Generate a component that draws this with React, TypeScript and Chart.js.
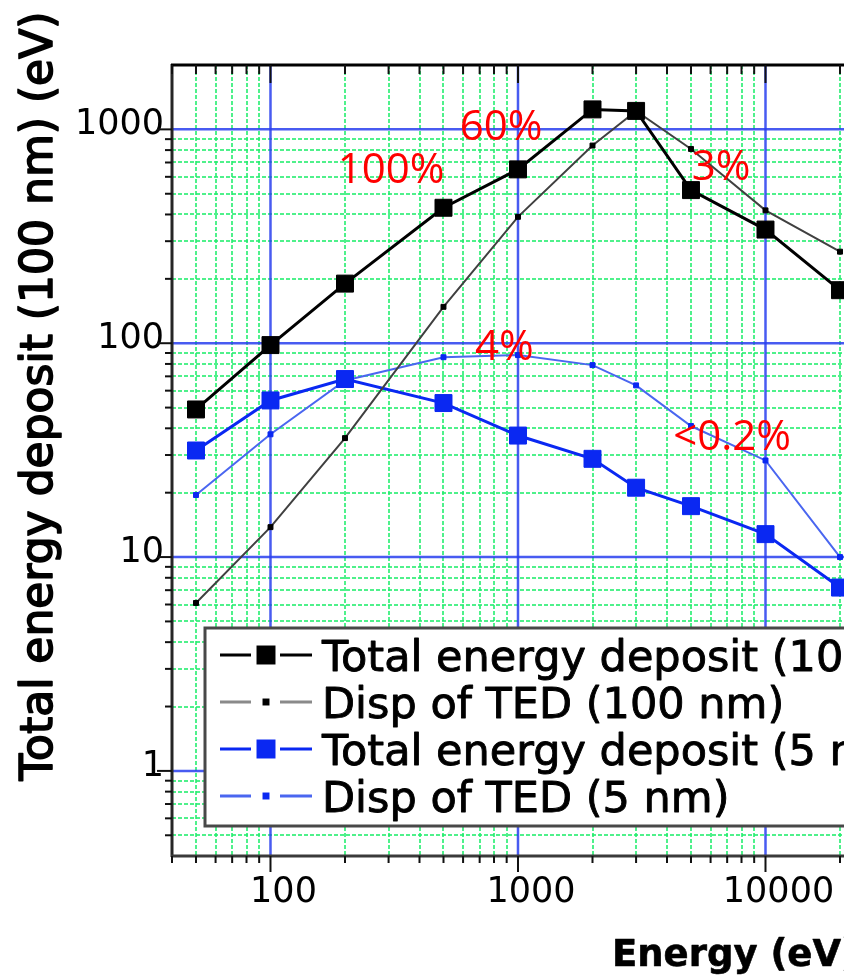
import React, { useEffect, useRef } from 'react';
import { Chart, registerables } from 'chart.js';

Chart.register(...registerables);

// Beam energies (eV)
const energies = [50, 100, 200, 500, 1000, 2000, 3000, 5000, 10000, 20000];

// Total energy deposit, 100 nm layer (eV)
const ted100 = [49, 98, 190, 430, 650, 1240, 1220, 520, 340, 177];
// Dispersion of the total energy deposit, 100 nm layer
const disp100 = [6.1, 13.8, 36, 148, 390, 840, 1220, 810, 418, 268];
// Total energy deposit, 5 nm layer (eV)
const ted5 = [31.5, 54, 68, 52.5, 37, 28.8, 21.1, 17.3, 12.8, 7.2];
// Dispersion of the total energy deposit, 5 nm layer
const disp5 = [19.5, 37.5, 67, 86, 88, 79, 63.5, 41, 28.3, 10];

const seriesLabels = [
  'Total energy deposit (100 nm)',
  'Disp of TED (100 nm)',
  'Total energy deposit (5 nm)',
  'Disp of TED (5 nm)',
];

const xMajorTicks = [100, 1000, 10000];
const yMajorTicks = [1, 10, 100, 1000];
const xLimits = [40, 100000];
const yLimits = [0.4, 2000];

const xTitle = 'Energy (eV)';
const yTitle = 'Total energy deposit (100 nm) (eV)';

// Percentage notes, anchored in data space (energy, deposit)
const noteTexts = ['100%', '60%', '3%', '4%', '<0.2%'];
const noteEnergies = [307, 855, 6620, 881, 7330];
const noteDeposits = [649, 1036, 674, 96.8, 36.8];

const CANVAS_W = 1040;
const CANVAS_H = 975;

const GREEN = 'rgba(35, 238, 110, 0.8)';
const BLUE_GRID = 'rgba(40, 62, 238, 0.85)';

function minorValues(min: number, max: number): number[] {
  const out: number[] = [];
  for (let e = Math.floor(Math.log10(min)); e <= Math.ceil(Math.log10(max)); e++) {
    const base = Math.pow(10, e);
    for (let m = 2; m <= 9; m++) {
      const v = m * base;
      if (v > min * 1.0001 && v < max * 0.9999) out.push(v);
    }
  }
  return out;
}

function majorValues(min: number, max: number): number[] {
  const out: number[] = [];
  for (let e = Math.ceil(Math.log10(min)); e <= Math.floor(Math.log10(max)); e++) {
    out.push(Math.pow(10, e));
  }
  return out;
}

// Text drawn with a thin outline in its own colour, for a slightly heavier stroke
function heavyText(ctx: CanvasRenderingContext2D, text: string, x: number, y: number, weight: number) {
  ctx.fillText(text, x, y);
  ctx.lineWidth = weight;
  ctx.strokeStyle = ctx.fillStyle as string;
  ctx.lineJoin = 'round';
  ctx.strokeText(text, x, y);
}

const plotDecor = {
  id: 'plotDecor',
  beforeDatasetsDraw(chart: any) {
    const { ctx, chartArea: a } = chart;
    const x = chart.scales.x;
    const y = chart.scales.y;
    ctx.save();
    ctx.beginPath();
    ctx.rect(a.left, a.top, a.right - a.left, a.bottom - a.top);
    ctx.clip();

    // minor grid: green dashed
    ctx.strokeStyle = GREEN;
    ctx.lineWidth = 2;
    ctx.setLineDash([4, 2]);
    for (const v of minorValues(xLimits[0], xLimits[1])) {
      const px = Math.round(x.getPixelForValue(v));
      ctx.beginPath();
      ctx.moveTo(px, a.top);
      ctx.lineTo(px, a.bottom);
      ctx.stroke();
    }
    for (const v of minorValues(yLimits[0], yLimits[1])) {
      const py = Math.round(y.getPixelForValue(v));
      ctx.beginPath();
      ctx.moveTo(a.left, py);
      ctx.lineTo(a.right, py);
      ctx.stroke();
    }

    // major grid: blue solid
    ctx.setLineDash([]);
    ctx.strokeStyle = BLUE_GRID;
    ctx.lineWidth = 2.5;
    for (const v of majorValues(xLimits[0], xLimits[1])) {
      const px = x.getPixelForValue(v);
      ctx.beginPath();
      ctx.moveTo(px, a.top);
      ctx.lineTo(px, a.bottom);
      ctx.stroke();
    }
    for (const v of majorValues(yLimits[0], yLimits[1])) {
      const py = y.getPixelForValue(v);
      ctx.beginPath();
      ctx.moveTo(a.left, py);
      ctx.lineTo(a.right, py);
      ctx.stroke();
    }
    ctx.restore();
  },
  afterDatasetsDraw(chart: any) {
    const { ctx, chartArea: a } = chart;
    const x = chart.scales.x;
    const y = chart.scales.y;
    ctx.save();

    // percentage notes
    ctx.fillStyle = '#ff0000';
    ctx.font = '42px "Open Sans"';
    ctx.textAlign = 'center';
    ctx.textBaseline = 'middle';
    noteTexts.forEach((t, i) => {
      ctx.fillText(t, x.getPixelForValue(noteEnergies[i]), y.getPixelForValue(noteDeposits[i]) + 2);
    });

    // axis frame
    ctx.lineCap = 'butt';
    ctx.strokeStyle = '#262626';
    ctx.lineWidth = 3;
    ctx.beginPath();
    ctx.moveTo(a.left, a.top - 1);
    ctx.lineTo(a.left, a.bottom + 1);
    ctx.stroke();
    ctx.strokeStyle = '#3a3a3a';
    ctx.beginPath();
    ctx.moveTo(a.left - 1, a.bottom);
    ctx.lineTo(a.right, a.bottom);
    ctx.stroke();
    ctx.strokeStyle = '#000';
    ctx.beginPath();
    ctx.moveTo(a.left - 1, a.top);
    ctx.lineTo(a.right, a.top);
    ctx.stroke();

    // tick marks
    ctx.lineWidth = 2;
    ctx.strokeStyle = '#111';
    const xMinor = minorValues(xLimits[0], xLimits[1]).concat([xLimits[0]]);
    const yMinor = minorValues(yLimits[0], yLimits[1]);
    for (const v of xMinor) {
      const px = x.getPixelForValue(v);
      ctx.beginPath();
      ctx.moveTo(px, a.bottom);
      ctx.lineTo(px, a.bottom + 7);
      ctx.moveTo(px, a.top);
      ctx.lineTo(px, a.top + 9);
      ctx.stroke();
    }
    for (const v of majorValues(xLimits[0], xLimits[1])) {
      const px = x.getPixelForValue(v);
      ctx.beginPath();
      ctx.moveTo(px, a.bottom);
      ctx.lineTo(px, a.bottom + 16);
      ctx.moveTo(px, a.top);
      ctx.lineTo(px, a.top + 18);
      ctx.stroke();
    }
    for (const v of yMinor) {
      const py = y.getPixelForValue(v);
      ctx.beginPath();
      ctx.moveTo(a.left - 7, py);
      ctx.lineTo(a.left, py);
      ctx.stroke();
    }
    for (const v of majorValues(yLimits[0], yLimits[1])) {
      const py = y.getPixelForValue(v);
      ctx.beginPath();
      ctx.moveTo(a.left - 15, py);
      ctx.lineTo(a.left, py);
      ctx.stroke();
    }

    // legend box
    const lx = a.left + 33;
    const ly = a.bottom - 228;
    const lw = 780;
    const lh = 198;
    ctx.fillStyle = '#fff';
    ctx.fillRect(lx, ly, lw, lh);
    ctx.strokeStyle = '#484848';
    ctx.lineWidth = 3;
    ctx.strokeRect(lx, ly, lw, lh);

    const legendLine = ['#000000', '#8a8a8a', '#0a28f2', '#4a66f0'];
    const rowH = 47;
    chart.data.datasets.forEach((ds: any, i: number) => {
      const cy = ly + 27 + i * rowH;
      ctx.strokeStyle = legendLine[i];
      ctx.lineWidth = 3;
      ctx.beginPath();
      ctx.moveTo(lx + 15, cy);
      ctx.lineTo(lx + 46, cy);
      ctx.moveTo(lx + 75, cy);
      ctx.lineTo(lx + 107, cy);
      ctx.stroke();
      const s = ds.pointRadius * Math.SQRT2 + 2;
      ctx.fillStyle = ds.pointBackgroundColor;
      ctx.fillRect(lx + 61 - s / 2, cy - s / 2, s, s);
      ctx.fillStyle = '#000';
      ctx.font = '43px "DejaVu Sans"';
      ctx.textAlign = 'left';
      ctx.textBaseline = 'alphabetic';
      heavyText(ctx, ds.label, lx + 117, cy + 16, 0.9);
    });

    // axis titles
    ctx.fillStyle = '#000';
    ctx.font = 'bold 37px "DejaVu Sans"';
    ctx.textAlign = 'left';
    ctx.textBaseline = 'alphabetic';
    heavyText(ctx, xTitle, 612, 966, 0.6);

    ctx.save();
    ctx.translate(52, 396);
    ctx.rotate(-Math.PI / 2);
    ctx.textAlign = 'center';
    ctx.font = '44px "DejaVu Sans"';
    ctx.fillStyle = '#000';
    heavyText(ctx, yTitle, 0, 0, 1.6);
    ctx.restore();

    ctx.restore();
  },
};

export default function App() {
  const ref = useRef<HTMLCanvasElement>(null);

  useEffect(() => {
    const canvas = ref.current;
    if (!canvas) return;
    const chart = new Chart(canvas, {
      type: 'line',
      data: {
        datasets: [
          {
            label: seriesLabels[0],
            data: energies.map((e, i) => ({ x: e, y: ted100[i] })),
            borderColor: '#000000',
            borderWidth: 3,
            pointStyle: 'rect',
            pointRadius: 12,
            pointBackgroundColor: '#000000',
            pointBorderColor: '#000000',
            pointBorderWidth: 1,
          },
          {
            label: seriesLabels[1],
            data: energies.map((e, i) => ({ x: e, y: disp100[i] })),
            borderColor: '#404040',
            borderWidth: 2,
            pointStyle: 'rect',
            pointRadius: 3.5,
            pointBackgroundColor: '#000000',
            pointBorderColor: '#000000',
            pointBorderWidth: 1,
          },
          {
            label: seriesLabels[2],
            data: energies.map((e, i) => ({ x: e, y: ted5[i] })),
            borderColor: '#0a28f2',
            borderWidth: 3,
            pointStyle: 'rect',
            pointRadius: 12,
            pointBackgroundColor: '#0a28f2',
            pointBorderColor: '#0a28f2',
            pointBorderWidth: 1,
          },
          {
            label: seriesLabels[3],
            data: energies.map((e, i) => ({ x: e, y: disp5[i] })),
            borderColor: '#4a66f0',
            borderWidth: 2,
            pointStyle: 'rect',
            pointRadius: 3.5,
            pointBackgroundColor: '#0a28f2',
            pointBorderColor: '#0a28f2',
            pointBorderWidth: 1,
          },
        ],
      },
      options: {
        responsive: false,
        animation: false,
        events: [],
        layout: { padding: { left: 0, top: 65, right: 27, bottom: 0 } },
        plugins: {
          legend: { display: false },
          tooltip: { enabled: false },
        },
        elements: { line: { tension: 0 } },
        scales: {
          x: {
            type: 'logarithmic',
            min: xLimits[0],
            max: xLimits[1],
            grid: { display: false, drawTicks: false },
            border: { display: false },
            afterBuildTicks: (s: any) => {
              s.ticks = xMajorTicks.map((v) => ({ value: v }));
            },
            afterFit: (s: any) => {
              s.height = CANVAS_H - 856;
            },
            ticks: {
              autoSkip: false,
              maxRotation: 0,
              padding: 16,
              labelOffset: 13,
              color: '#000',
              font: { family: 'DejaVu Sans', size: 35 },
              callback: (v: any) => String(v),
            },
          },
          y: {
            type: 'logarithmic',
            min: yLimits[0],
            max: yLimits[1],
            grid: { display: false, drawTicks: false },
            border: { display: false },
            afterBuildTicks: (s: any) => {
              s.ticks = yMajorTicks.map((v) => ({ value: v }));
            },
            afterFit: (s: any) => {
              s.width = 172;
            },
            ticks: {
              autoSkip: false,
              padding: 8,
              labelOffset: -4,
              color: '#000',
              font: { family: 'DejaVu Sans', size: 35 },
              callback: (v: any) => String(v),
            },
          },
        },
      },
      plugins: [plotDecor],
    } as any);
    return () => chart.destroy();
  }, []);

  return (
    <div
      style={{
        position: 'fixed',
        left: 0,
        top: 0,
        width: 844,
        height: CANVAS_H,
        overflow: 'hidden',
        background: '#fff',
      }}
    >
      <canvas ref={ref} width={CANVAS_W} height={CANVAS_H} style={{ display: 'block' }} />
    </div>
  );
}
